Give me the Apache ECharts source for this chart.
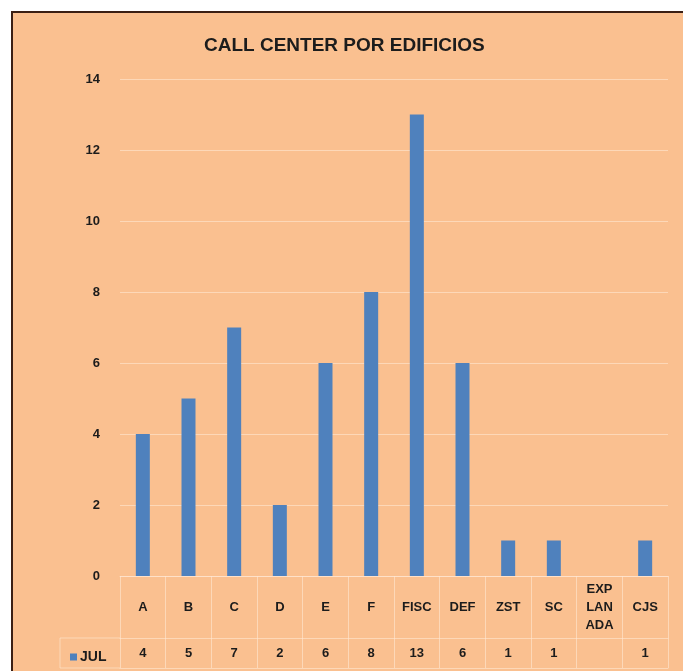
<!DOCTYPE html>
<html>
<head>
<meta charset="utf-8">
<script src="https://cdn.jsdelivr.net/npm/echarts@6/dist/echarts.min.js"></script>
<style>
  html, body { margin: 0; padding: 0; background: #fff; }
  /* marco del gráfico: solo borde superior e izquierdo visibles */
  #chart {
    position: absolute;
    left: 11px;
    top: 11px;
    width: 670px;
    height: 658px;
    border-left: 2px solid #3b1f14;
    border-top: 2px solid #3b1f14;
    background: #fac090;
  }
</style>
</head>
<body>
<div id="chart"></div>
<script>
// datos
const categories = ["A", "B", "C", "D", "E", "F", "FISC", "DEF", "ZST", "SC", "EXPLANADA", "CJS"];
const julValues = [4, 5, 7, 2, 6, 8, 13, 6, 1, 1, null, 1];
const seriesName = "JUL";
const yTicks = { min: 0, max: 14, interval: 2 };

const lineColor = "rgba(255,232,212,0.6)";
const textColor = "#1c1c1c";

// nombres largos partidos en trozos de 3 letras (EXP / LAN / ADA)
function wrapName(name) {
  return name.length > 5 ? name.match(/.{1,3}/g).join("\n") : name;
}

const chart = echarts.init(document.getElementById("chart"));

const option = {
  animation: false,
  title: {
    text: "CALL CENTER POR EDIFICIOS",
    left: 186,
    top: 18,
    textStyle: {
      fontFamily: "Liberation Sans, Arial, sans-serif",
      fontSize: 19,
      fontWeight: "bold",
      color: textColor,
    },
  },
  legend: {
    data: [seriesName],
    left: 52,
    top: 632,
    icon: "rect",
    itemWidth: 7,
    itemHeight: 7,
    itemGap: 4,
    textStyle: {
      fontFamily: "Liberation Sans, Arial, sans-serif",
      fontSize: 14,
      fontWeight: "bold",
      color: textColor,
      padding: [0, 0, 0, -2],
    },
  },
  grid: {
    left: 107,
    right: 15,
    top: 66,
    bottom: 95,
    containLabel: false,
  },
  yAxis: {
    type: "value",
    min: yTicks.min,
    max: yTicks.max,
    interval: yTicks.interval,
    axisLine: { show: false },
    axisTick: { show: false },
    axisLabel: {
      margin: 20,
      fontFamily: "Liberation Sans, Arial, sans-serif",
      fontSize: 13,
      fontWeight: "bold",
      color: textColor,
    },
    splitLine: { lineStyle: { color: lineColor, width: 1 } },
  },
  xAxis: [
    // fila de nombres (tabla de datos)
    {
      type: "category",
      data: categories,
      position: "bottom",
      axisLine: { lineStyle: { color: lineColor } },
      axisTick: { show: true, interval: 0, length: 92, lineStyle: { color: lineColor } },
      axisLabel: {
        interval: 0,
        margin: 31,
        verticalAlign: "middle",
        lineHeight: 18,
        fontFamily: "Liberation Sans, Arial, sans-serif",
        fontSize: 13,
        fontWeight: "bold",
        color: textColor,
        formatter: wrapName,
      },
    },
    // fila de valores JUL
    {
      type: "category",
      data: categories,
      position: "bottom",
      offset: 62,
      axisLine: { lineStyle: { color: lineColor } },
      axisTick: { show: false },
      axisLabel: {
        interval: 0,
        margin: 15,
        verticalAlign: "middle",
        fontFamily: "Liberation Sans, Arial, sans-serif",
        fontSize: 13,
        fontWeight: "bold",
        color: textColor,
        formatter: (v, i) => (julValues[i] == null ? "" : String(julValues[i])),
      },
    },
    // borde inferior de la tabla
    {
      type: "category",
      data: categories,
      position: "bottom",
      offset: 92,
      axisLine: { lineStyle: { color: lineColor } },
      axisTick: { show: false },
      axisLabel: { show: false },
    },
  ],
  // celda de la leyenda a la izquierda de la tabla
  graphic: [
    { type: "line", shape: { x1: 47, y1: 625, x2: 107, y2: 625 }, style: { stroke: lineColor } },
    { type: "line", shape: { x1: 47, y1: 655, x2: 107, y2: 655 }, style: { stroke: lineColor } },
    { type: "line", shape: { x1: 47, y1: 625, x2: 47, y2: 655 }, style: { stroke: lineColor } },
  ],
  series: [
    {
      name: seriesName,
      type: "bar",
      xAxisIndex: 0,
      barWidth: 14,
      itemStyle: { color: "#4f81bd" },
      data: julValues,
    },
  ],
};

chart.setOption(option);
</script>
</body>
</html>
